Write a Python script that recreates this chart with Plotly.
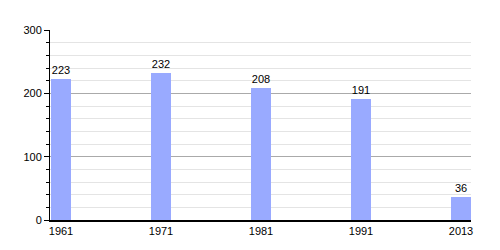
import plotly.graph_objects as go

years = ["1961", "1971", "1981", "1991", "2013"]
population = [223, 232, 208, 191, 36]

fig = go.Figure()
fig.add_trace(go.Bar(
    x=years, y=population, width=0.2,
    marker=dict(color="#99aaff", line=dict(width=0)),
    text=[str(v) for v in population], textposition="outside",
    textfont=dict(family="Liberation Sans, Arial", size=11, color="#000000"),
    cliponaxis=False,
))
fig.update_layout(
    width=500, height=250,
    margin=dict(l=50, r=29, t=30, b=30),
    paper_bgcolor="white", plot_bgcolor="white",
    showlegend=False,
    font=dict(family="Liberation Sans, Arial", size=11, color="#000000"),
    bargap=0,
)
fig.update_xaxes(
    type="category", range=[-0.11, 4.10],
    showline=True, linecolor="black", linewidth=1.5,
    ticks="", showgrid=False, tickfont=dict(size=11, color="#000000"),
)
fig.update_yaxes(
    range=[0, 300], dtick=100, tick0=0,
    showline=True, linecolor="black", linewidth=1,
    ticks="outside", ticklen=5, tickcolor="black", tickwidth=1,
    showgrid=True, gridcolor="#aaaaaa", gridwidth=1,
    zeroline=False,
    minor=dict(dtick=20, ticks="outside", ticklen=3, tickcolor="black",
               showgrid=True, gridcolor="#e4e4e4", gridwidth=1),
    tickfont=dict(size=11, color="#000000"),
)
fig.write_html("out.html")
